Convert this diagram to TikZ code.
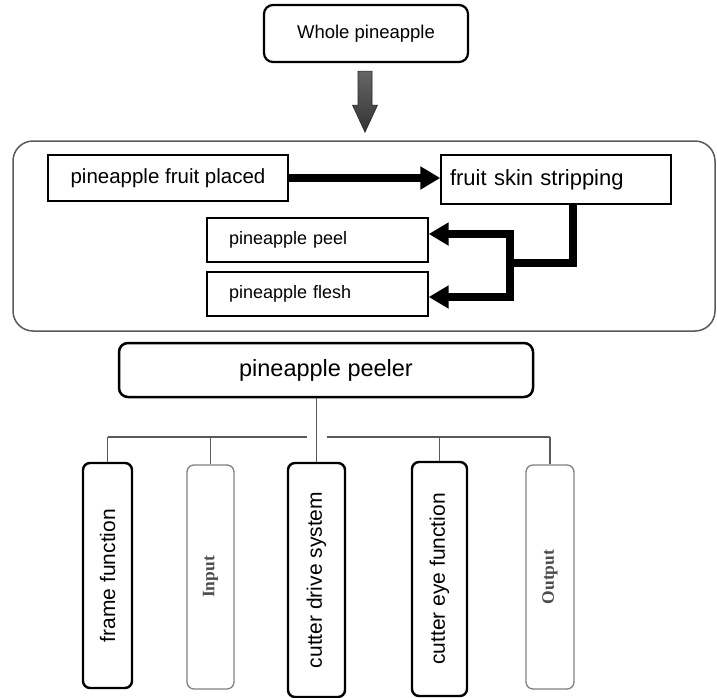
\documentclass[tikz,border=0pt]{standalone}
\usepackage{fontspec}
\setmainfont{Liberation Sans}
\newfontfamily\ioserif{Liberation Serif}
\usetikzlibrary{arrows.meta,positioning,calc}

\begin{document}
\begin{tikzpicture}[
    x=1pt,y=-1pt,
    topbox/.style={draw,line width=2.2pt,rounded corners=9pt,inner sep=0pt},
    stepbox/.style={draw,line width=1.4pt,inner sep=0pt},
    leafbox/.style={draw,line width=2.4pt,rounded corners=7pt,inner sep=0pt,font=\fontsize{21}{21}\selectfont},
    ioleaf/.style={draw=gray,line width=1.3pt,rounded corners=7pt,inner sep=0pt,text=black!70,font=\ioserif\bfseries\fontsize{17.5}{17.5}\selectfont},
    fatline/.style={line width=8pt,line join=miter},
    fatarrow/.style={fatline,-{Triangle[length=20pt,width=22pt]}},
    treeline/.style={gray!70!black,line width=1.4pt},
    feedarrow/.style={draw=gray!30!black,line width=0.6pt,top color=gray!80!black,bottom color=black!80}
]
\useasboundingbox (0,0) rectangle (717,697);

% process stage
\node[draw=gray!70!black,line width=1.5pt,rounded corners=20pt,minimum width=702pt,minimum height=190pt] (stage) at (364,236) {};
\node[topbox,minimum width=204pt,minimum height=57pt,font=\fontsize{18.5}{18.5}\selectfont] (whole) at (366,33.5) {Whole pineapple};
\coordinate (feed) at ($(whole.south)!0.5!(stage.north)$);
\shadedraw[feedarrow] (feed) ++(-7,-30.5) -- ++(14,0) -- ++(0,34) -- ++(5.5,0) -- ++(-12.5,27) -- ++(-12.5,-27) -- ++(5.5,0) -- cycle;

\node[stepbox,minimum width=240pt,minimum height=46pt,font=\fontsize{20.5}{20.5}\selectfont] (placed) at (168,178) {pineapple fruit placed};
\node[stepbox,minimum height=49pt,text width=212pt,inner xsep=9pt,align=left,font=\fontsize{22}{22}\selectfont] (skin) at (556,179.5) {fruit skin stripping};
\node[stepbox,minimum height=44pt,text width=177pt,inner xsep=22pt,align=left,font=\fontsize{18}{18}\selectfont] (peel) at (317.5,240) {pineapple peel};
\node[stepbox,minimum height=44pt,text width=177pt,inner xsep=22pt,align=left,font=\fontsize{18}{18}\selectfont] (flesh) at (317.5,294) {pineapple flesh};

\coordinate (tap) at ([xshift=17pt]skin.south);
\coordinate (split) at (510,263);
\draw[fatarrow] (placed.east) -- (placed.east -| skin.west);
\draw[fatline] (tap) |- (split);
\draw[fatarrow] (split) |- ([yshift=6pt]peel.east);
\draw[fatarrow] (split) |- ([yshift=-3pt]flesh.east);

% function tree
\node[topbox,line width=2.5pt,minimum width=414pt,minimum height=54pt,font=\fontsize{23.5}{23.5}\selectfont] (peeler) at (326,370) {pineapple peeler};

\node[leafbox,minimum width=49pt,minimum height=225pt] (frame) at (107.5,575.5) {\rotatebox{90}{frame function}};
\node[ioleaf,minimum width=47pt,minimum height=224pt] (input) at (210.5,577) {\rotatebox{90}{Input}};
\node[leafbox,minimum width=57pt,minimum height=234pt] (drive) at (316.5,580) {\rotatebox{90}{cutter drive system}};
\node[leafbox,minimum width=55pt,minimum height=234pt] (eye) at (439.5,579) {\rotatebox{90}{cutter eye function}};
\node[ioleaf,minimum width=48pt,minimum height=224pt] (output) at (550,577) {\rotatebox{90}{Output}};

\coordinate (bar) at (0,437);
\draw[treeline] (drive.north |- peeler.south) -- (drive.north);
\draw[treeline] (frame.north |- bar) -- ([xshift=-10pt]drive.north |- bar);
\draw[treeline] ([xshift=10pt]drive.north |- bar) -- (output.north |- bar);
\foreach \leaf in {frame,input,eye,output}
    \draw[treeline] (\leaf.north |- bar) -- (\leaf.north);
\end{tikzpicture}
\end{document}
